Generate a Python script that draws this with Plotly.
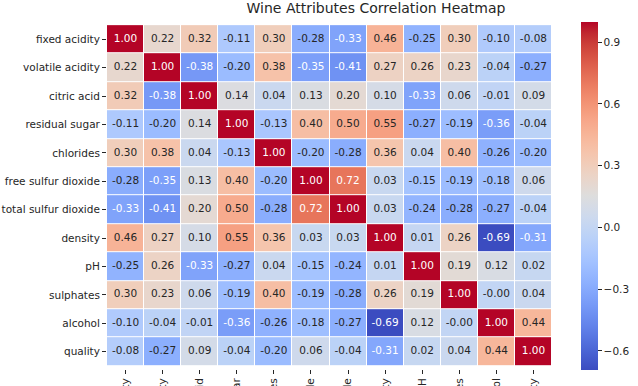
import plotly.graph_objects as go

labels = ["fixed acidity", "volatile acidity", "citric acid", "residual sugar",
          "chlorides", "free sulfur dioxide", "total sulfur dioxide", "density",
          "pH", "sulphates", "alcohol", "quality"]

row_fixed_acidity = [1.00, 0.22, 0.32, -0.11, 0.30, -0.28, -0.33, 0.46, -0.25, 0.30, -0.10, -0.08]
row_volatile_acidity = [0.22, 1.00, -0.38, -0.20, 0.38, -0.35, -0.41, 0.27, 0.26, 0.23, -0.04, -0.27]
row_citric_acid = [0.32, -0.38, 1.00, 0.14, 0.04, 0.13, 0.20, 0.10, -0.33, 0.06, -0.01, 0.09]
row_residual_sugar = [-0.11, -0.20, 0.14, 1.00, -0.13, 0.40, 0.50, 0.55, -0.27, -0.19, -0.36, -0.04]
row_chlorides = [0.30, 0.38, 0.04, -0.13, 1.00, -0.20, -0.28, 0.36, 0.04, 0.40, -0.26, -0.20]
row_free_so2 = [-0.28, -0.35, 0.13, 0.40, -0.20, 1.00, 0.72, 0.03, -0.15, -0.19, -0.18, 0.06]
row_total_so2 = [-0.33, -0.41, 0.20, 0.50, -0.28, 0.72, 1.00, 0.03, -0.24, -0.28, -0.27, -0.04]
row_density = [0.46, 0.27, 0.10, 0.55, 0.36, 0.03, 0.03, 1.00, 0.01, 0.26, -0.69, -0.31]
row_ph = [-0.25, 0.26, -0.33, -0.27, 0.04, -0.15, -0.24, 0.01, 1.00, 0.19, 0.12, 0.02]
row_sulphates = [0.30, 0.23, 0.06, -0.19, 0.40, -0.19, -0.28, 0.26, 0.19, 1.00, -0.004, 0.04]
row_alcohol = [-0.10, -0.04, -0.01, -0.36, -0.26, -0.18, -0.27, -0.69, 0.12, -0.004, 1.00, 0.44]
row_quality = [-0.08, -0.27, 0.09, -0.04, -0.20, 0.06, -0.04, -0.31, 0.02, 0.04, 0.44, 1.00]

z = [row_fixed_acidity, row_volatile_acidity, row_citric_acid, row_residual_sugar,
     row_chlorides, row_free_so2, row_total_so2, row_density, row_ph,
     row_sulphates, row_alcohol, row_quality]

cb_ticks = [-0.6, -0.3, 0.0, 0.3, 0.6, 0.9]

# matplotlib "coolwarm" (Moreland) samples
cw = [(59, 76, 192), (68, 90, 204), (77, 104, 215), (87, 117, 225), (98, 130, 234),
      (108, 142, 241), (119, 154, 247), (130, 165, 251), (141, 176, 254), (152, 185, 255),
      (163, 194, 255), (174, 201, 253), (184, 208, 249), (194, 213, 244), (204, 217, 238),
      (213, 219, 230), (221, 221, 221), (229, 216, 209), (236, 211, 197), (241, 204, 184),
      (245, 196, 172), (247, 187, 160), (247, 177, 148), (247, 166, 137), (244, 154, 123),
      (241, 141, 111), (236, 127, 99), (229, 112, 88), (222, 96, 77), (213, 80, 66),
      (203, 62, 56), (192, 40, 47), (180, 4, 38)]
n = len(cw) - 1
colorscale = [[i / n, "rgb(%d,%d,%d)" % c] for i, c in enumerate(cw)]

zmin = min(min(r) for r in z)
zmax = max(max(r) for r in z)


def color_at(t):
    t = max(0.0, min(1.0, t))
    p = t * n
    i = min(int(p), n - 1)
    f = p - i
    a, b = cw[i], cw[i + 1]
    return [(a[k] + (b[k] - a[k]) * f) / 255.0 for k in range(3)]


def lum(rgb):
    lin = [c / 12.92 if c <= 0.03928 else ((c + 0.055) / 1.055) ** 2.4 for c in rgb]
    return 0.2126 * lin[0] + 0.7152 * lin[1] + 0.0722 * lin[2]


tx, ty, tt, tc = [], [], [], []
for i, row in enumerate(z):
    for j, v in enumerate(row):
        tx.append(labels[j])
        ty.append(labels[i])
        tt.append(f"{v:.2f}")
        L = lum(color_at((v - zmin) / (zmax - zmin)))
        tc.append("#ffffff" if L <= 0.408 else "#262626")

W, H = 638, 386
L_, R_, T_, B_ = 107, 552, 22, 369

fig = go.Figure()
fig.add_trace(go.Heatmap(
    z=z, x=labels, y=labels, colorscale=colorscale, zmin=zmin, zmax=zmax,
    xgap=1, ygap=1,
    colorbar=dict(
        thickness=17, thicknessmode="pixels",
        x=(581 - L_) / (R_ - L_), xanchor="left", xpad=0,
        y=0.5, yanchor="middle", len=(370 - 22) / (B_ - T_), ypad=0,
        outlinewidth=0, tickvals=cb_ticks, tickformat=".1f",
        ticks="outside", ticklen=4, tickwidth=1, tickcolor="#262626",
        tickfont=dict(family="DejaVu Sans", size=10.5, color="#262626"),
    ),
    hoverinfo="skip",
))
fig.add_trace(go.Scatter(
    x=tx, y=ty, text=tt, mode="text",
    textfont=dict(family="DejaVu Sans", size=10.5, color=tc),
    hoverinfo="skip", showlegend=False,
))

axis_common = dict(
    type="category", categoryorder="array", categoryarray=labels,
    showgrid=False, zeroline=False, showline=False,
    ticks="outside", ticklen=4, tickwidth=1, tickcolor="#262626",
    tickfont=dict(family="DejaVu Sans", size=10.5, color="#262626"),
    automargin=False,
)

fig.update_layout(
    width=W, height=H,
    margin=dict(l=L_, r=W - R_, t=T_, b=H - B_, pad=0, autoexpand=False),
    paper_bgcolor="white", plot_bgcolor="white",
    template="none",
    showlegend=False,
    title=dict(text="Wine Attributes Correlation Heatmap",
               x=(376 - L_) / (R_ - L_), xref="paper", xanchor="center",
               y=1 - 8 / H, yref="container", yanchor="middle",
               font=dict(family="DejaVu Sans", size=14, color="#262626")),
    xaxis=dict(axis_common, tickangle=-90, range=[-0.5, 11.5]),
    yaxis=dict(axis_common, autorange="reversed"),
)

fig.write_html("out.html",
               config={"displayModeBar": False},
               post_script="document.body.style.margin='0';document.body.style.overflow='hidden';")
